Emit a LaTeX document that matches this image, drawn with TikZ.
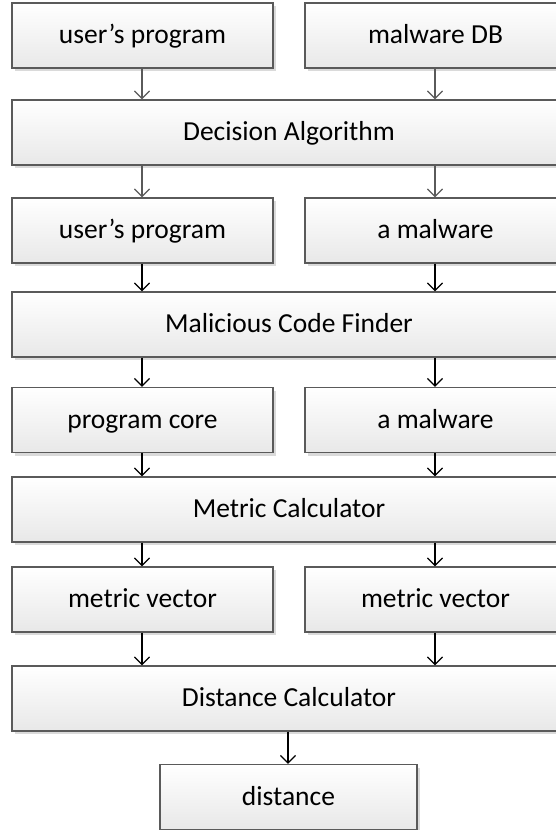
\documentclass[tikz,border=0pt]{standalone}
\usepackage{fontspec}
\setmainfont{Carlito}
\usetikzlibrary{arrows.meta,shadows}
\definecolor{boxline}{HTML}{5A5A5A}
\definecolor{boxshade}{HTML}{E8E8E8}
\definecolor{shadowgray}{HTML}{DADADA}
\tikzset{
  block/.style={draw=boxline, line width=1.3pt, top color=white, bottom color=boxshade,
    minimum height=65pt, inner sep=0pt, font=\fontsize{27.5}{32}\selectfont,
    text height=21pt, text depth=5pt,
    drop shadow={shadow xshift=3pt, shadow yshift=-3pt, fill=shadowgray, opacity=1}},
  half/.style={block, minimum width=261pt},
  wide/.style={block, minimum width=554pt},
  flow/.style={-{Straight Barb[length=7.5pt,width=15pt,line width=1.3pt]}, line width=1.3pt},
  flowgray/.style={flow, draw=boxline},
}
\begin{document}
\begin{tikzpicture}[x=1pt,y=-1pt]
\useasboundingbox (0,0) rectangle (556,830);
\clip (0,0) rectangle (556,830);
% first level: inputs
\node[half] (up1) at (142.5,35.5) {user’s program};
\node[half] (db)  at (435.5,35.5) {malware DB};
\node[wide] (dec) at (289,132.5) {Decision Algorithm};
% selected pair
\node[half] (up2) at (142.5,230.5) {user’s program};
\node[half] (mw1) at (435.5,230.5) {a malware};
\node[wide] (mcf) at (289,324.5) {Malicious Code Finder};
% cores
\node[half] (core) at (142.5,420) {program core};
\node[half] (mw2)  at (435.5,420) {a malware};
\node[wide] (met)  at (289,509.5) {Metric Calculator};
% vectors
\node[half] (mv1) at (142.5,599.5) {metric vector};
\node[half] (mv2) at (435.5,599.5) {metric vector};
\node[wide] (dis) at (289,698.5) {Distance Calculator};
% result
\node[block, minimum width=257pt] (res) at (288.5,797) {distance};
% connectors
\coordinate (c1) at (142,0); \coordinate (c2) at (435,0); \coordinate (c3) at (288,0);
\draw[flowgray] (up1.south -| c1) -- (dec.north -| c1);
\draw[flowgray] (db.south -| c2) -- (dec.north -| c2);
\draw[flowgray] (dec.south -| c1) -- (up2.north -| c1);
\draw[flowgray] (dec.south -| c2) -- (mw1.north -| c2);
\draw[flow] (up2.south -| c1) -- (mcf.north -| c1);
\draw[flow] (mw1.south -| c2) -- (mcf.north -| c2);
\draw[flow] (mcf.south -| c1) -- (core.north -| c1);
\draw[flow] (mcf.south -| c2) -- (mw2.north -| c2);
\draw[flow] (core.south -| c1) -- (met.north -| c1);
\draw[flow] (mw2.south -| c2) -- (met.north -| c2);
\draw[flow] (met.south -| c1) -- (mv1.north -| c1);
\draw[flow] (met.south -| c2) -- (mv2.north -| c2);
\draw[flow] (mv1.south -| c1) -- (dis.north -| c1);
\draw[flow] (mv2.south -| c2) -- (dis.north -| c2);
\draw[flow] (dis.south -| c3) -- (res.north -| c3);
\end{tikzpicture}
\end{document}
